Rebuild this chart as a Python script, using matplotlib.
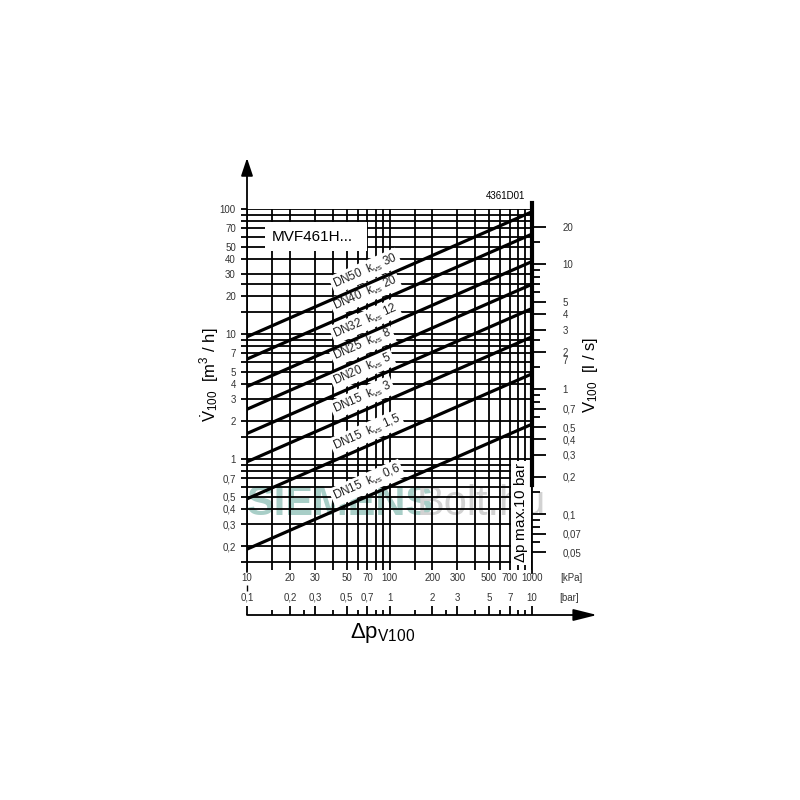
import numpy as np
import matplotlib
matplotlib.use('Agg')
import matplotlib.pyplot as plt
import matplotlib.transforms as mtransforms
from matplotlib.patches import Rectangle
from matplotlib.ticker import NullFormatter

plt.rcParams['font.family'] = ['Liberation Sans', 'DejaVu Sans']
plt.rcParams['mathtext.fontset'] = 'custom'
plt.rcParams['mathtext.rm'] = 'Liberation Sans'
plt.rcParams['mathtext.it'] = 'Liberation Sans:italic'

# valve lines (flow in m3/h read at 10 kPa and 1000 kPa)
dn_labels = ['DN50', 'DN40', 'DN32', 'DN25', 'DN20', 'DN15', 'DN15', 'DN15']
kvs_labels = ['30', '20', '12', '8', '5', '3', '1,5', '0,6']
v_at_10kpa = [9.5, 6.3, 3.8, 2.5, 1.6, 0.95, 0.48, 0.19]
v_at_1000kpa = [95, 63, 38, 25, 16, 9.5, 4.8, 1.9]
dp_ends = [10, 1000]

grid_x = [10, 15, 20, 30, 40, 50, 60, 70, 80, 90, 100, 150, 200, 300, 400, 500,
          600, 700, 800, 900, 1000]
grid_y = [0.15, 0.2, 0.3, 0.4, 0.5, 0.6, 0.7, 0.8, 0.9, 1, 1.5, 2, 3, 4, 5, 6, 7, 8, 9,
          10, 15, 20, 25, 30, 40, 50, 60, 70, 80, 90, 100]

left_vals = [100, 70, 50, 40, 30, 20, 10, 7, 5, 4, 3, 2, 1, 0.7, 0.5, 0.4, 0.3, 0.2]
left_labels = ['100', '70', '50', '40', '30', '20', '10', '7', '5', '4', '3', '2', '1',
               '0,7', '0,5', '0,4', '0,3', '0,2']

right_vals = [20, 10, 5, 4, 3, 2, 1.72, 1, 0.7, 0.5, 0.4, 0.3, 0.2, 0.1, 0.07, 0.05]
right_labels = ['20', '10', '5', '4', '3', '2', '7', '1', '0,7', '0,5', '0,4', '0,3',
                '0,2', '0,1', '0,07', '0,05']
right_minor = [15, 9, 8, 7, 6, 2.5, 1.5, 0.9, 0.8, 0.6, 0.15, 0.09, 0.08, 0.06]

kpa_vals = [10, 20, 30, 50, 70, 100, 200, 300, 500, 700, 1000]
kpa_labels = ['10', '20', '30', '50', '70', '100', '200', '300', '500', '700', '1000']
bar_labels = ['0,1', '0,2', '0,3', '0,5', '0,7', '1', '2', '3', '5', '7', '10']
kpa_minor = [15, 25, 40, 60, 80, 90, 150, 250, 400, 600, 800, 900]


def fy(py):
    return 1 - py / 800.0


fig = plt.figure(figsize=(8, 8), dpi=100)
L, R, B, T = 247, 532, 570, 209
ax = fig.add_axes([L / 800, fy(B), (R - L) / 800, (B - T) / 800])
ax.set_xscale('log')
ax.set_yscale('log')
ylo = 10 ** (2 - (B - T) / 125.0)
ax.set_xlim(10, 1000)
ax.set_ylim(ylo, 100)
for s in ax.spines.values():
    s.set_visible(False)

# grid
ax.hlines(grid_y, 10, 1000, color='k', lw=1.3, zorder=1)
ax.vlines(grid_x, ylo, 100, color='k', lw=1.3, zorder=1)

# valve lines
for a, b in zip(v_at_10kpa, v_at_1000kpa):
    ax.plot(dp_ends, [a, b], color='k', lw=2.3, zorder=4, solid_capstyle='butt')

p1 = ax.transData.transform((10, 1))
p2 = ax.transData.transform((1000, 10))
angle = np.degrees(np.arctan2(p2[1] - p1[1], p2[0] - p1[0]))

x0 = 41.5
for dn, kv, a, b in zip(dn_labels, kvs_labels, v_at_10kpa, v_at_1000kpa):
    yl = a * 10 ** (np.log10(x0 / 10) * np.log10(b / a) / 2)
    ax.text(x0, yl * 1.2, dn + '  k$_{\\rm vs}$ ' + kv, rotation=angle,
            rotation_mode='anchor', ha='left', va='baseline', fontsize=8.5,
            color='#222222', zorder=3,
            bbox=dict(fc='white', ec='none', pad=1.5))

# MVF box
ax.add_patch(Rectangle((265 / 800, fy(251)), 102 / 800, 29 / 800,
                       transform=fig.transFigure, fc='white', ec='none', zorder=2,
                       clip_on=False))
ax.text(272 / 800, fy(237), 'MVF461H...', transform=fig.transFigure, fontsize=11,
        ha='left', va='center', zorder=3)
fig.text(506 / 800, fy(196), '4361D01', fontsize=7, ha='center', va='center')

# watermark
ax.text(340 / 800, fy(504), 'SIEMENS', transform=fig.transFigure, fontsize=30,
        fontweight='bold', color='#a8cec7', ha='center', va='center', zorder=0.5)
ax.text(481 / 800, fy(504), 'Bolt.hu', transform=fig.transFigure, fontsize=30,
        color='#d2d2d2', ha='center', va='center', zorder=0.5)

# dp max line
ax.axvline(1000, ymin=(B - 485) / (B - T), ymax=(B - 203) / (B - T), color='k',
           lw=3, clip_on=False, zorder=5)
ax.axvline(1000, ymin=(B - 573) / (B - T), ymax=(B - 485) / (B - T), color='k',
           lw=1.3, clip_on=False, zorder=5)
ax.text(521 / 800, fy(513), '$\\Delta$p max.10 bar', transform=fig.transFigure,
        rotation=90, fontsize=11, ha='center', va='center', zorder=3,
        bbox=dict(fc='white', ec='none', pad=1))

# left axis
ax.set_yticks(left_vals, labels=left_labels)
ax.set_yticks([v for v in grid_y if v not in left_vals], minor=True)
ax.yaxis.set_minor_formatter(NullFormatter())
ax.tick_params(axis='y', which='both', length=4, width=1.3, labelsize=7, pad=4,
               colors='k', labelcolor='#333333')
ax.tick_params(axis='x', which='both', bottom=False, labelbottom=False)
ax.annotate('', xy=(L / 800, fy(158)), xytext=(L / 800, fy(572)),
            xycoords='figure fraction',
            arrowprops=dict(arrowstyle='-|>,head_length=0.9,head_width=0.3',
                            color='k', lw=1.3, shrinkA=0, shrinkB=0,
                            mutation_scale=12))
ax.text(210 / 800, fy(375), '$\\dot{\\rm V}_{100}$  [m$^3$ / h]',
        transform=fig.transFigure, rotation=90, fontsize=12, ha='center', va='center')

# right axis (l/s)
ax2 = ax.twinx()
ax2.set_yscale('log')
ax2.set_ylim(ylo / 3.6, 100 / 3.6)
for s in ax2.spines.values():
    s.set_visible(False)
ax2.set_yticks(right_vals, labels=right_labels)
ax2.set_yticks(right_minor, minor=True)
ax2.yaxis.set_minor_formatter(NullFormatter())
ax2.tick_params(axis='y', which='major', length=10, width=1.3, labelsize=7, pad=12,
                labelcolor='#333333')
ax2.tick_params(axis='y', which='minor', length=6, width=1.3)
ax2.yaxis.get_major_ticks()[6].tick2line.set_visible(False)
ax2.text(590 / 800, fy(375), 'V$_{100}$  [l / s]', transform=fig.transFigure,
         rotation=90, fontsize=12, ha='center', va='center')

# bottom pressure axis
trans = mtransforms.blended_transform_factory(ax.transData, fig.transFigure)
ax.annotate('', xy=(597 / 800, fy(615)), xytext=(L / 800, fy(615)),
            xycoords='figure fraction',
            arrowprops=dict(arrowstyle='-|>,head_length=1.2,head_width=0.3',
                            color='k', lw=1.3, shrinkA=0, shrinkB=0,
                            mutation_scale=12))
ax.vlines(kpa_vals, fy(615), fy(606), transform=trans, color='k', lw=1.3,
          clip_on=False)
ax.vlines(kpa_minor, fy(615), fy(610), transform=trans, color='k', lw=1.3,
          clip_on=False)
ax.vlines([10], fy(591), fy(585), transform=trans, color='k', lw=1, clip_on=False)
for v, k, b in zip(kpa_vals, kpa_labels, bar_labels):
    ax.text(v, fy(578), k, transform=trans, ha='center', va='center', fontsize=7,
            color='#333333')
    ax.text(v, fy(598), b, transform=trans, ha='center', va='center', fontsize=7,
            color='#333333')
fig.text(571 / 800, fy(578), '[kPa]', ha='center', va='center', fontsize=7,
         color='#333333')
fig.text(569 / 800, fy(598), '[bar]', ha='center', va='center', fontsize=7,
         color='#333333')
fig.text(383 / 800, fy(633), '$\\Delta$p$_{\\rm V100}$', ha='center', va='center',
         fontsize=16)

plt.savefig('out.png', dpi=100)
